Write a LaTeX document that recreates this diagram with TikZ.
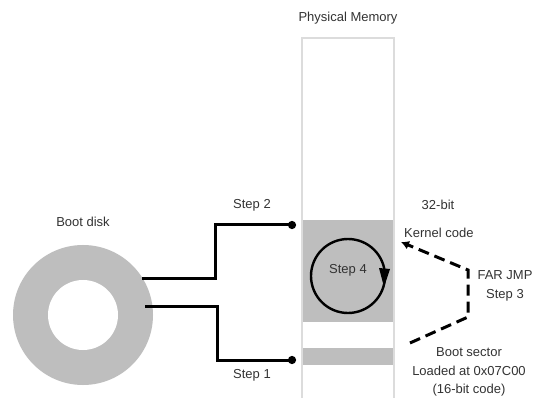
\documentclass[tikz,border=0pt]{standalone}
\usepackage{fontspec}
\setmainfont{Liberation Sans}
\usetikzlibrary{arrows.meta}
\definecolor{blockgray}{HTML}{BEBEBE}
\definecolor{framegray}{HTML}{DCDCDC}
\definecolor{txt}{HTML}{333333}
\tikzset{
  lbl/.style={inner sep=0pt, text=txt, font=\fontsize{13}{18.5}\selectfont, align=center},
  conn/.style={line width=3pt, line join=miter, -{Circle[length=8pt]}},
  jump/.style={line width=3pt, dash pattern=on 11pt off 6pt, -{Latex[length=8pt,width=9pt]}},
  memblock/.style={rectangle, fill=blockgray, inner sep=0pt, anchor=north west}
}
\begin{document}
\begin{tikzpicture}[x=1pt,y=-1pt]
\useasboundingbox (0,0) rectangle (541,398);
\fill[white] (0,0) rectangle (541,398);
% memory column
\draw[framegray, line width=1.5pt] (302,420) -- (302,38) -- (394,38) -- (394,420);
\node[memblock, minimum width=90pt, minimum height=102pt] (kernel) at (303,220) {};
\node[memblock, minimum width=90pt, minimum height=17pt] (boot) at (303,348) {};
\node[lbl] (pm) at (348,18) {Physical Memory};
% disk
\node[circle, fill=blockgray, minimum size=140pt, inner sep=0pt] (disk) at (83,315) {};
\node[circle, fill=white, minimum size=70pt, inner sep=0pt] (hole) at (disk.center) {};
\node[lbl] (disklbl) at (83,222) {Boot disk};
% connectors
\coordinate (s2a) at (142,279);
\coordinate (s2b) at (296,225);
\coordinate (s1a) at (145,306);
\coordinate (s1b) at (296,360);
\draw[conn] (s2a) -- (215,279) -- (215,225) -- (s2b);
\draw[conn] (s1a) -- (217,306) -- (217,360) -- (s1b);
\node[lbl] (st2) at (252,205) {Step 2};
\node[lbl] (st1) at (252,375) {Step 1};
% loop
\node[circle, draw=black, line width=2.4pt, minimum size=74pt, inner sep=0pt] (loop) at (348,276) {};
\node[lbl] (st4) at (348,270) {Step 4};
\fill[black] (379,268) -- (390,269) -- (384,287) -- cycle;
% far jump
\coordinate (jfrom) at (410,343);
\coordinate (jto) at (401,242);
\draw[jump] (jfrom) -- (468,317) -- (468,270) -- (jto);
% labels
\node[lbl] (b32) at (438,205) {32-bit};
\node[lbl, anchor=west] (kc) at (404,233) {Kernel code};
\node[lbl] (far) at (505,286) {FAR JMP\\Step 3};
\node[lbl] (bs) at (469,372) {Boot sector\\Loaded at 0x07C00\\(16-bit code)};
\end{tikzpicture}
\end{document}
